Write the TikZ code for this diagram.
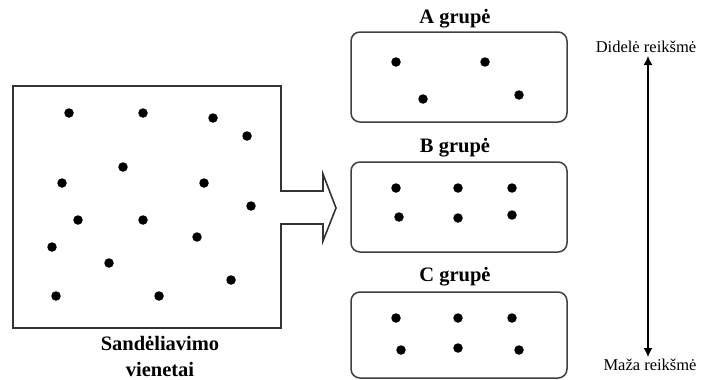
\documentclass[tikz,border=0pt]{standalone}
\usepackage{fontspec}
\setmainfont{Liberation Serif}
\usetikzlibrary{arrows.meta}
\begin{document}
\begin{tikzpicture}[x=1pt,y=-1pt,
  outline/.style={draw=black!80,line width=1.6pt},
  groupbox/.style={draw=black!75,line width=1.5pt,rounded corners=9pt,
    minimum width=216pt,inner sep=0pt},
  grouptitle/.style={font=\fontsize{20.5}{24}\selectfont\bfseries,inner sep=0pt},
  scaletext/.style={font=\fontsize{16.5}{20}\selectfont,inner sep=0pt},
  dot/.style={circle,fill=black,inner sep=0pt,minimum size=9.5pt}]
\useasboundingbox (0,0) rectangle (702,380);

% storage area with the outlined arrow leaving its right side
\draw[outline,line join=miter]
  (281,191) -- (281,86) -- (13,86) -- (13,328) -- (281,328) -- (281,224)
  -- (323,224) -- (323,241) -- (336,208) -- (323,174) -- (323,191) -- cycle;
\foreach \px/\py [count=\i] in {69/113,143/113,213/118,247/136,123/167,62/183,
    204/183,251/206,78/220,143/220,197/237,52/247,109/263,231/280,56/296,159/296}
  \node[dot] (s\i) at (\px,\py) {};
\node[grouptitle,align=center] (stock) at (160,356)
  {Sand\.eliavimo\\[2pt]vienetai};

% groups
\node[groupbox,minimum height=90pt] (ga) at (459,77) {};
\node[groupbox,minimum height=90pt] (gb) at (459,207) {};
\node[groupbox,minimum height=86pt] (gc) at (459,335) {};
\node[grouptitle] (ta) at (455,19) {A grupė};
\node[grouptitle] (tb) at (455,148) {B grupė};
\node[grouptitle] (tc) at (455,277) {C grupė};

\foreach \px/\py [count=\i] in {396/62,485/62,423/99,519/95}
  \node[dot] (a\i) at (\px,\py) {};
\foreach \px/\py [count=\i] in {396/188,458/188,512/188,399/217,458/218,512/215}
  \node[dot] (b\i) at (\px,\py) {};
\foreach \px/\py [count=\i] in {396/318,458/318,512/318,401/350,458/348,519/350}
  \node[dot] (c\i) at (\px,\py) {};

% value scale
\node[scaletext] (hi) at (646,47) {Didelė reikšmė};
\node[scaletext] (lo) at (650,365) {Maža reikšmė};
\coordinate (top) at (648,56);
\coordinate (bot) at (648,357);
\draw[line width=1.3pt,{Latex[length=9pt,width=9pt]}-{Latex[length=9pt,width=9pt]}]
  (top) -- (bot);
\end{tikzpicture}
\end{document}
